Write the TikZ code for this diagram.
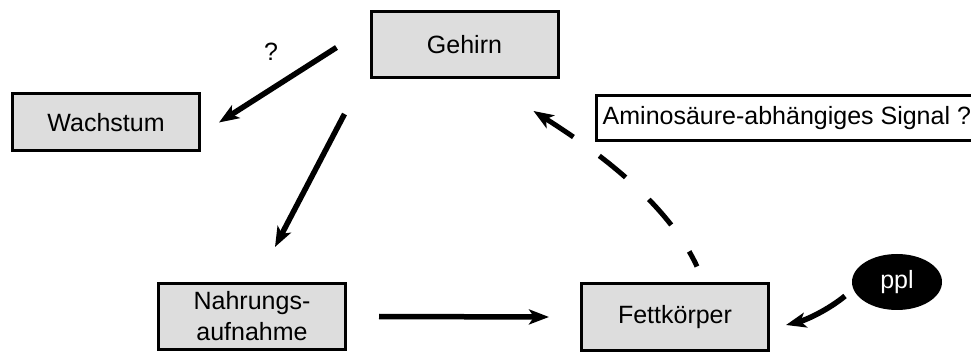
\documentclass[tikz,border=0pt]{standalone}
\usepackage{fontspec}
\setmainfont{Liberation Sans}
\usetikzlibrary{arrows.meta,shapes.geometric,calc}
\definecolor{boxgray}{HTML}{DDDDDD}
\begin{document}
\begin{tikzpicture}[x=1pt,y=-1pt,
  txt/.style={font=\fontsize{25}{31}\selectfont},
  box/.style={txt, draw, line width=3pt, fill=boxgray, minimum width=187pt,
    minimum height=66pt, inner sep=0pt, align=center},
  frame/.style={line width=3pt},
  arr/.style={line width=5.5pt, -{Stealth[length=20pt,width=15pt,inset=5pt]}},
  dasharr/.style={line width=5pt, dash pattern=on 34pt off 32pt, dash phase=17pt,
    -{Stealth[length=20pt,width=15pt,inset=5pt]}}]
\useasboundingbox (0,0) rectangle (971,352);
\clip (0,0) rectangle (971,352);

\node[box] (geh) at (464.5,44.5) {Gehirn};
\node[box, minimum height=57pt] (wach) at (106,122.5) {Wachstum};
\node[box] (nahr) at (252,316.5) {Nahrungs-\\aufnahme};
\node[box, minimum height=67pt] (fett) at (675,317) {Fettkörper};
\node[txt, anchor=west, minimum height=45pt, inner xsep=0pt] (amino) at (602.5,118)
  {Aminosäure-abhängiges Signal ?};
\draw[frame] ($(amino.north east)+(12,0)$) -- ($(amino.north west)+(-6,0)$)
  -- ($(amino.south west)+(-6,0)$) -- ($(amino.south east)+(12,0)$);
\node[txt, ellipse, fill=black, text=white, minimum width=90pt, minimum height=56pt,
  inner sep=0pt] (ppl) at (897,282) {ppl};
\node[txt] (q) at (271,52) {?};

\draw[arr] ($(geh.west)+(-33,3)$) -- ($(wach.east)+(18,0)$);
\draw[arr] ($(geh.south west)+(-25,35)$) -- ($(nahr.north)+(23,-35)$);
\draw[arr] ($(nahr.east)+(32,0)$) -- ($(fett.west)+(-31,0)$);
\draw[arr] ($(ppl.center)+(-52,14)$) .. controls (828,310) and (806,320) .. ($(fett.east)+(16,8)$);
\draw[dasharr] ($(fett.north)+(22,-15.5)$) .. controls (668,204) and (600,153) .. ($(geh.south east)+(-26,32)$);
\end{tikzpicture}
\end{document}
